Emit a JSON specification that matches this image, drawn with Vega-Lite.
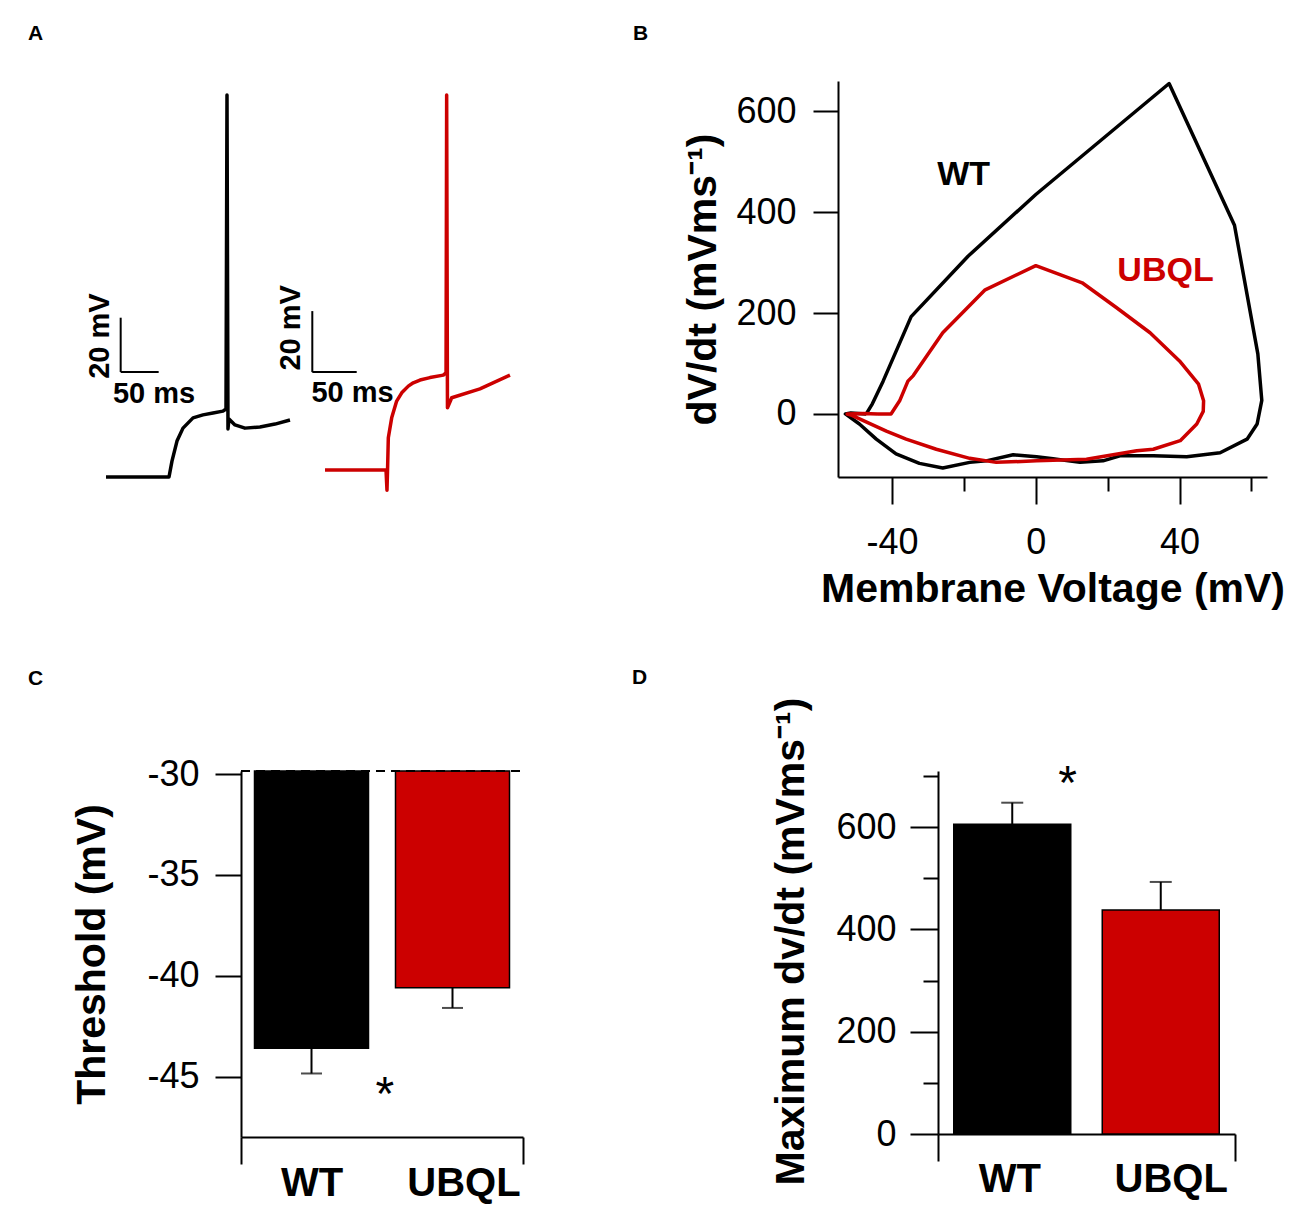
{
  "$schema": "https://vega.github.io/schema/vega-lite/v6.json",
  "background": "white",
  "padding": {"left": 28, "top": 23, "right": 0, "bottom": 10},
  "bounds": "flush",
  "spacing": 690,
  "config": {
    "view": {"stroke": null},
    "axis": {
      "grid": false, "domainColor": "black", "tickColor": "black", "domainWidth": 2, "tickWidth": 2,
      "labelFont": "Liberation Sans", "labelFontSize": 36, "labelColor": "black",
      "titleFont": "Liberation Sans", "titleFontSize": 41, "titleFontWeight": "bold", "titleColor": "black",
      "labelFlush": false, "labelOverlap": false
    },
    "title": {"font": "Liberation Sans", "fontSize": 21, "fontWeight": "bold", "anchor": "start", "frame": "group", "baseline": "alphabetic", "color": "black"},
    "text": {"font": "Liberation Sans"}
  },
  "vconcat": [
    {
      "bounds": "flush",
      "spacing": 10,
      "hconcat": [
        {
          "width": 60, "height": 420,
          "title": {"text": "A", "dx": -213, "offset": 20, "fontSize": 21, "fontWeight": "bold", "font": "Liberation Sans", "anchor": "start", "frame": "group", "baseline": "alphabetic"},
          "encoding": {
            "x": {"field": "t", "type": "quantitative", "scale": {"domain": [177.63, 256.58], "nice": false, "zero": false}, "axis": null},
            "y": {"field": "v", "type": "quantitative", "scale": {"domain": [-78.89, 76.67], "nice": false, "zero": false}, "axis": null}
          },
          "layer": [
            {
              "data": {"values": [
                {"i": 0, "t": 0, "v": -70}, {"i": 1, "t": 82.9, "v": -70}, {"i": 2, "t": 86.8, "v": -64.1},
                {"i": 3, "t": 93.4, "v": -56.7}, {"i": 4, "t": 101.3, "v": -51.9}, {"i": 5, "t": 114.5, "v": -48.1},
                {"i": 6, "t": 127.6, "v": -47.0}, {"i": 7, "t": 140.8, "v": -46.3}, {"i": 8, "t": 153.9, "v": -45.6},
                {"i": 9, "t": 157.9, "v": -44.8}, {"i": 10, "t": 159.2, "v": 71.5}, {"i": 11, "t": 160.5, "v": -52.2},
                {"i": 12, "t": 161.8, "v": -48.5}, {"i": 13, "t": 169.7, "v": -50.7}, {"i": 14, "t": 182.9, "v": -51.9},
                {"i": 15, "t": 202.6, "v": -51.5}, {"i": 16, "t": 222.4, "v": -50.4}, {"i": 17, "t": 242.1, "v": -48.9}
              ]},
              "mark": {"type": "line", "color": "black", "strokeWidth": 3.5, "strokeJoin": "round"},
              "encoding": {"order": {"field": "i", "type": "quantitative"}}
            },
            {
              "data": {"values": [
                {"t": 19.3, "t2": 19.3, "v": -31.1, "v2": -11.0},
                {"t": 19.3, "t2": 69.3, "v": -31.1, "v2": -31.1}
              ]},
              "mark": {"type": "rule", "color": "black", "strokeWidth": 2},
              "encoding": {"x2": {"field": "t2"}, "y2": {"field": "v2"}}
            },
            {
              "data": {"values": [{"label": "50 ms", "t": 63.2, "v": -39.3}]},
              "mark": {"type": "text", "fontSize": 29, "fontWeight": "bold", "align": "center", "baseline": "middle", "color": "black"},
              "encoding": {"text": {"field": "label"}}
            },
            {
              "data": {"values": [{"label": "20 mV", "t": -7.9, "v": -17.8}]},
              "mark": {"type": "text", "fontSize": 29, "fontWeight": "bold", "align": "center", "baseline": "middle", "angle": 270, "color": "black"},
              "encoding": {"text": {"field": "label"}}
            }
          ]
        },
        {
          "width": 517, "height": 420,
          "encoding": {
            "x": {"field": "t", "type": "quantitative", "scale": {"domain": [-15.77, 566.44], "nice": false, "zero": false}, "axis": null},
            "y": {"field": "v", "type": "quantitative", "scale": {"domain": [-80.16, 57.54], "nice": false, "zero": false}, "axis": null}
          },
          "layer": [
            {
              "data": {"values": [
                {"i": 0, "t": 0, "v": -70}, {"i": 1, "t": 68.7, "v": -70}, {"i": 2, "t": 69.8, "v": -76.6},
                {"i": 3, "t": 70.4, "v": -70.3}, {"i": 4, "t": 71.3, "v": -59.4}, {"i": 5, "t": 75.1, "v": -52.9},
                {"i": 6, "t": 80.7, "v": -47.4}, {"i": 7, "t": 86.4, "v": -44.7}, {"i": 8, "t": 93.8, "v": -42.5},
                {"i": 9, "t": 99.4, "v": -41.4}, {"i": 10, "t": 107.0, "v": -40.5}, {"i": 11, "t": 118.2, "v": -39.7},
                {"i": 12, "t": 133.2, "v": -38.9}, {"i": 13, "t": 136.3, "v": -38.1}, {"i": 14, "t": 137.0, "v": 52.95},
                {"i": 15, "t": 137.9, "v": -49.6}, {"i": 16, "t": 142.7, "v": -46.3}, {"i": 17, "t": 174.5, "v": -43.4},
                {"i": 18, "t": 208.3, "v": -38.9}
              ]},
              "mark": {"type": "line", "color": "#cc0000", "strokeWidth": 3.5, "strokeJoin": "round"},
              "encoding": {"order": {"field": "i", "type": "quantitative"}}
            },
            {
              "data": {"values": [
                {"t": -14.3, "t2": -14.3, "v": -37.9, "v2": -17.9},
                {"t": -14.3, "t2": 35.7, "v": -37.9, "v2": -37.9}
              ]},
              "mark": {"type": "rule", "color": "black", "strokeWidth": 2},
              "encoding": {"x2": {"field": "t2"}, "y2": {"field": "v2"}}
            },
            {
              "data": {"values": [{"label": "50 ms", "t": 31.0, "v": -44.9}]},
              "mark": {"type": "text", "fontSize": 29, "fontWeight": "bold", "align": "center", "baseline": "middle", "color": "black"},
              "encoding": {"text": {"field": "label"}}
            },
            {
              "data": {"values": [{"label": "20 mV", "t": -38.3, "v": -23.4}]},
              "mark": {"type": "text", "fontSize": 29, "fontWeight": "bold", "align": "center", "baseline": "middle", "angle": 270, "color": "black"},
              "encoding": {"text": {"field": "label"}}
            }
          ]
        },
        {
          "width": 429, "height": 396,
          "title": {"text": "B", "dx": -205, "offset": 20, "fontSize": 21, "fontWeight": "bold", "font": "Liberation Sans", "anchor": "start", "frame": "group", "baseline": "alphabetic"},
          "encoding": {
            "x": {"field": "vm", "type": "quantitative", "scale": {"domain": [-55.06, 64.35], "nice": false, "zero": false},
              "axis": {
                "title": "Membrane Voltage (mV)", "values": [-40, -20, 0, 20, 40, 60],
                "tickSize": {"condition": {"test": "datum.value == -20 || datum.value == 20 || datum.value == 60", "value": 14}, "value": 27},
                "labelExpr": "(datum.value == -40 || datum.value == 0 || datum.value == 40) ? '' + datum.value : ''",
                "labelBaseline": "alphabetic", "labelPadding": 49,
                "titleBaseline": "alphabetic", "titleY": 124
              }},
            "y": {"field": "dvdt", "type": "quantitative", "scale": {"domain": [-125, 660], "nice": false, "zero": false},
              "axis": {
                "title": "dV/dt (mVms⁻¹)", "values": [0, 200, 400, 600], "tickSize": 25, "labelPadding": 17,
                "labelExpr": "'' + datum.value", "titleX": -123, "titleBaseline": "alphabetic"
              }},
            "color": {"field": "genotype", "type": "nominal", "scale": {"domain": ["WT", "UBQL"], "range": ["#000000", "#cc0000"]}, "legend": null}
          },
          "layer": [
            {
              "data": {"values": [
                {"genotype": "WT", "i": 0, "vm": -47.2, "dvdt": 0}, {"genotype": "WT", "i": 1, "vm": -45.5, "dvdt": 20},
                {"genotype": "WT", "i": 2, "vm": -42.5, "dvdt": 65}, {"genotype": "WT", "i": 3, "vm": -34.7, "dvdt": 193},
                {"genotype": "WT", "i": 4, "vm": -18.8, "dvdt": 313}, {"genotype": "WT", "i": 5, "vm": 0, "dvdt": 435},
                {"genotype": "WT", "i": 6, "vm": 37.1, "dvdt": 655}, {"genotype": "WT", "i": 7, "vm": 55.3, "dvdt": 374},
                {"genotype": "WT", "i": 8, "vm": 61.8, "dvdt": 119}, {"genotype": "WT", "i": 9, "vm": 62.9, "dvdt": 27},
                {"genotype": "WT", "i": 10, "vm": 61.6, "dvdt": -20}, {"genotype": "WT", "i": 11, "vm": 58.8, "dvdt": -50},
                {"genotype": "WT", "i": 12, "vm": 51.3, "dvdt": -77}, {"genotype": "WT", "i": 13, "vm": 42, "dvdt": -85},
                {"genotype": "WT", "i": 14, "vm": 32.7, "dvdt": -83}, {"genotype": "WT", "i": 15, "vm": 23.4, "dvdt": -83},
                {"genotype": "WT", "i": 16, "vm": 18.7, "dvdt": -93}, {"genotype": "WT", "i": 17, "vm": 12.3, "dvdt": -96},
                {"genotype": "WT", "i": 18, "vm": 4.8, "dvdt": -89}, {"genotype": "WT", "i": 19, "vm": 0.2, "dvdt": -85},
                {"genotype": "WT", "i": 20, "vm": -6.3, "dvdt": -81}, {"genotype": "WT", "i": 21, "vm": -13.8, "dvdt": -93},
                {"genotype": "WT", "i": 22, "vm": -18.4, "dvdt": -96}, {"genotype": "WT", "i": 23, "vm": -25.9, "dvdt": -107},
                {"genotype": "WT", "i": 24, "vm": -32.4, "dvdt": -98}, {"genotype": "WT", "i": 25, "vm": -38.9, "dvdt": -79},
                {"genotype": "WT", "i": 26, "vm": -44.4, "dvdt": -50}, {"genotype": "WT", "i": 27, "vm": -49.1, "dvdt": -20},
                {"genotype": "WT", "i": 28, "vm": -53, "dvdt": 0}, {"genotype": "WT", "i": 29, "vm": -51.5, "dvdt": 2},
                {"genotype": "WT", "i": 30, "vm": -47.2, "dvdt": 0},
                {"genotype": "UBQL", "i": 0, "vm": -44, "dvdt": 0}, {"genotype": "UBQL", "i": 1, "vm": -40.3, "dvdt": 0},
                {"genotype": "UBQL", "i": 2, "vm": -37.9, "dvdt": 26}, {"genotype": "UBQL", "i": 3, "vm": -35.6, "dvdt": 65},
                {"genotype": "UBQL", "i": 4, "vm": -34.1, "dvdt": 76}, {"genotype": "UBQL", "i": 5, "vm": -25.9, "dvdt": 161},
                {"genotype": "UBQL", "i": 6, "vm": -14.1, "dvdt": 246}, {"genotype": "UBQL", "i": 7, "vm": 0, "dvdt": 294},
                {"genotype": "UBQL", "i": 8, "vm": 12.9, "dvdt": 260}, {"genotype": "UBQL", "i": 9, "vm": 22.4, "dvdt": 211},
                {"genotype": "UBQL", "i": 10, "vm": 31.8, "dvdt": 161}, {"genotype": "UBQL", "i": 11, "vm": 40, "dvdt": 105},
                {"genotype": "UBQL", "i": 12, "vm": 45.3, "dvdt": 59}, {"genotype": "UBQL", "i": 13, "vm": 46.7, "dvdt": 26},
                {"genotype": "UBQL", "i": 14, "vm": 46.6, "dvdt": 5}, {"genotype": "UBQL", "i": 15, "vm": 44.8, "dvdt": -20},
                {"genotype": "UBQL", "i": 16, "vm": 40.2, "dvdt": -53}, {"genotype": "UBQL", "i": 17, "vm": 32.7, "dvdt": -70},
                {"genotype": "UBQL", "i": 18, "vm": 28.1, "dvdt": -73}, {"genotype": "UBQL", "i": 19, "vm": 14.1, "dvdt": -90},
                {"genotype": "UBQL", "i": 20, "vm": 0.2, "dvdt": -93}, {"genotype": "UBQL", "i": 21, "vm": -11, "dvdt": -96},
                {"genotype": "UBQL", "i": 22, "vm": -18.4, "dvdt": -88}, {"genotype": "UBQL", "i": 23, "vm": -27.7, "dvdt": -70},
                {"genotype": "UBQL", "i": 24, "vm": -36.1, "dvdt": -50}, {"genotype": "UBQL", "i": 25, "vm": -41.6, "dvdt": -34},
                {"genotype": "UBQL", "i": 26, "vm": -51.5, "dvdt": -2}, {"genotype": "UBQL", "i": 27, "vm": -52.5, "dvdt": 0},
                {"genotype": "UBQL", "i": 28, "vm": -48, "dvdt": 1}, {"genotype": "UBQL", "i": 29, "vm": -44, "dvdt": 0}
              ]},
              "mark": {"type": "line", "strokeWidth": 3.5, "strokeJoin": "round"},
              "encoding": {"order": {"field": "i", "type": "quantitative"}}
            },
            {
              "data": {"values": [
                {"genotype": "WT", "vm": -20.1, "dvdt": 473},
                {"genotype": "UBQL", "vm": 36.1, "dvdt": 284}
              ]},
              "mark": {"type": "text", "fontSize": 34, "fontWeight": "bold", "align": "center", "baseline": "middle"},
              "encoding": {"text": {"field": "genotype"}}
            }
          ]
        }
      ]
    },
    {
      "bounds": "flush",
      "spacing": 415,
      "hconcat": [
        {
          "width": 282, "height": 366,
          "title": {"text": "C", "dx": -213, "offset": 50, "fontSize": 21, "fontWeight": "bold", "font": "Liberation Sans", "anchor": "start", "frame": "group", "baseline": "alphabetic"},
          "data": {"values": [
            {"group": "WT", "x": 1, "mean": -43.6, "low": -44.85},
            {"group": "UBQL", "x": 2, "mean": -40.6, "low": -41.6}
          ]},
          "encoding": {
            "x": {"field": "x", "type": "quantitative", "scale": {"domain": [0.5, 2.5], "nice": false, "zero": false, "padding": 0},
              "axis": {
                "title": null, "values": [0.5, 1, 2, 2.5], "tickSize": 27,
                "tickOpacity": {"condition": {"test": "datum.value == 1 || datum.value == 2", "value": 0}, "value": 1},
                "labelExpr": "datum.value == 1 ? 'WT' : (datum.value == 2 ? 'UBQL' : '')",
                "labelFontWeight": "bold", "labelFontSize": 40, "labelBaseline": "alphabetic", "labelPadding": 31,
                "labelOffset": {"condition": {"test": "datum.value == 2", "value": 11}, "value": 0}
              }},
            "y": {"field": "mean", "type": "quantitative", "scale": {"domain": [-48, -29.85], "nice": false, "zero": false, "padding": 0},
              "axis": {
                "title": "Threshold (mV)", "values": [-30, -35, -40, -45], "tickSize": 26, "labelPadding": 16,
                "labelExpr": "'' + datum.value", "titleX": -137, "titleBaseline": "alphabetic"
              }}
          },
          "layer": [
            {
              "mark": {"type": "bar", "width": 114, "stroke": "black", "strokeWidth": 1.5},
              "encoding": {
                "y2": {"datum": -29.85},
                "color": {"field": "group", "type": "nominal", "scale": {"domain": ["WT", "UBQL"], "range": ["#000000", "#cc0000"]}, "legend": null}
              }
            },
            {
              "mark": {"type": "rule", "color": "black", "strokeWidth": 2},
              "encoding": {"y2": {"field": "low"}}
            },
            {
              "mark": {"type": "tick", "orient": "horizontal", "size": 21, "thickness": 2, "color": "black"},
              "encoding": {"y": {"field": "low", "type": "quantitative"}}
            },
            {
              "mark": {"type": "rule", "color": "black", "strokeWidth": 2, "strokeDash": [9, 6]},
              "encoding": {"x": {"datum": 0.5}, "x2": {"datum": 2.5}, "y": {"datum": -29.85}}
            },
            {
              "data": {"values": [{"sig": "*", "x": 1.52, "y": -45.97}]},
              "mark": {"type": "text", "fontSize": 48, "align": "center", "baseline": "middle", "color": "black"},
              "encoding": {"y": {"field": "y", "type": "quantitative"}, "text": {"field": "sig"}}
            }
          ]
        },
        {
          "width": 297, "height": 363,
          "title": {"text": "D", "dx": -306, "offset": -8, "fontSize": 21, "fontWeight": "bold", "font": "Liberation Sans", "anchor": "start", "frame": "group", "baseline": "alphabetic"},
          "data": {"values": [
            {"group": "WT", "x": 1, "mean": 606, "high": 648},
            {"group": "UBQL", "x": 2, "mean": 438, "high": 493}
          ]},
          "encoding": {
            "x": {"field": "x", "type": "quantitative", "scale": {"domain": [0.5, 2.5], "nice": false, "zero": false, "padding": 0},
              "axis": {
                "title": null, "values": [0.5, 1, 2, 2.5], "tickSize": 27,
                "tickOpacity": {"condition": {"test": "datum.value == 1 || datum.value == 2", "value": 0}, "value": 1},
                "labelExpr": "datum.value == 1 ? 'WT' : (datum.value == 2 ? 'UBQL' : '')",
                "labelFontWeight": "bold", "labelFontSize": 40, "labelBaseline": "alphabetic", "labelPadding": 30,
                "labelOffset": {"condition": {"test": "datum.value == 2", "value": 10}, "value": -3}
              }},
            "y": {"field": "mean", "type": "quantitative", "scale": {"domain": [0, 710], "nice": false, "zero": false, "padding": 0},
              "axis": {
                "title": "Maximum dv/dt (mVms⁻¹)", "values": [0, 100, 200, 300, 400, 500, 600, 700],
                "tickSize": {"condition": {"test": "datum.value == 100 || datum.value == 300 || datum.value == 500 || datum.value == 700", "value": 15}, "value": 28},
                "labelExpr": "(datum.value == 0 || datum.value == 200 || datum.value == 400 || datum.value == 600) ? '' + datum.value : ''",
                "labelPadding": 14, "titleX": -135, "titleY": 170, "titleBaseline": "alphabetic"
              }}
          },
          "layer": [
            {
              "mark": {"type": "bar", "width": 117, "stroke": "black", "strokeWidth": 1.5},
              "encoding": {
                "color": {"field": "group", "type": "nominal", "scale": {"domain": ["WT", "UBQL"], "range": ["#000000", "#cc0000"]}, "legend": null}
              }
            },
            {
              "mark": {"type": "rule", "color": "black", "strokeWidth": 2},
              "encoding": {"y2": {"field": "high"}}
            },
            {
              "mark": {"type": "tick", "orient": "horizontal", "size": 22, "thickness": 2, "color": "black"},
              "encoding": {"y": {"field": "high", "type": "quantitative"}}
            },
            {
              "data": {"values": [{"sig": "*", "x": 1.372, "y": 682}]},
              "mark": {"type": "text", "fontSize": 48, "align": "center", "baseline": "middle", "color": "black"},
              "encoding": {"y": {"field": "y", "type": "quantitative"}, "text": {"field": "sig"}}
            }
          ]
        }
      ]
    }
  ]
}
